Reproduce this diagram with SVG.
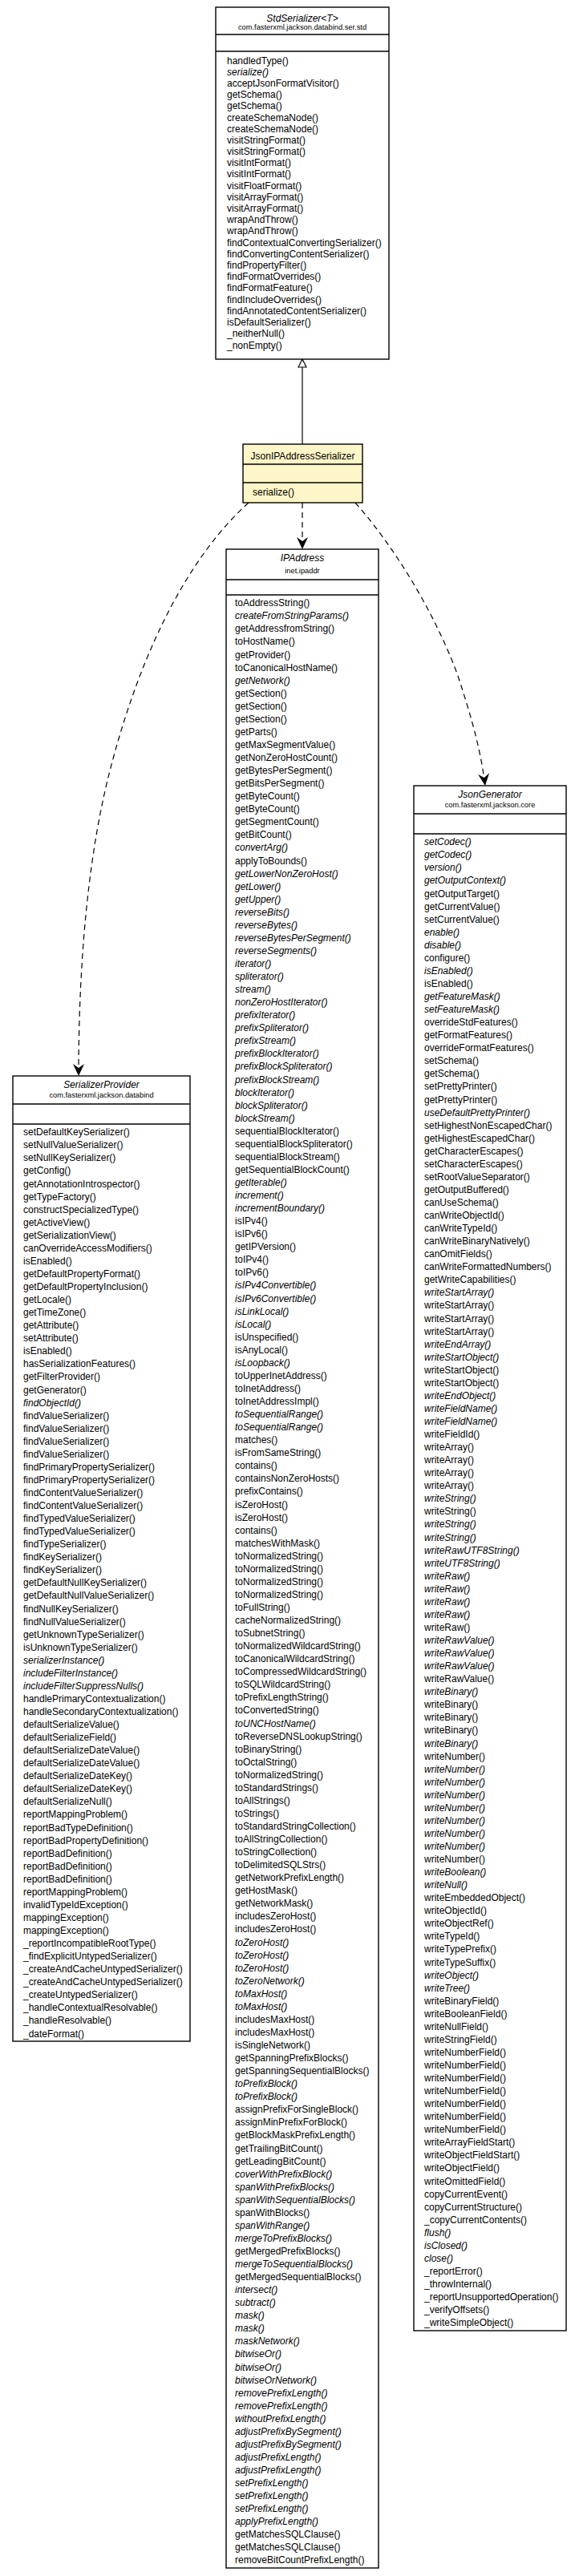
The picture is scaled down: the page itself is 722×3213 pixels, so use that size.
<svg xmlns="http://www.w3.org/2000/svg" width="722" height="3213" viewBox="0 0 722 3213">
<style>
.b{fill:#fff;stroke:#000;stroke-width:1.4}
.y{fill:#fef6c8;stroke:#000;stroke-width:1.4}
.s{stroke:#000;stroke-width:1.4}
.t{font-family:"Liberation Sans",Arial,sans-serif;font-size:12px;fill:#000}
.c{font-family:"Liberation Sans",Arial,sans-serif;font-size:12px;fill:#000;text-anchor:middle}
.p{font-family:"Liberation Sans",Arial,sans-serif;font-size:9.3px;fill:#000;text-anchor:middle}
.i{font-style:italic}
.e{fill:none;stroke:#000;stroke-width:1.2;stroke-dasharray:7,5}
.g{fill:none;stroke:#000;stroke-width:1.2}
</style>
<defs>
<marker id="vee" markerUnits="userSpaceOnUse" viewBox="0 0 15 14" markerWidth="15" markerHeight="14" refX="15" refY="7" orient="auto"><path d="M0,0 L15,7 L0,14 L5,7 Z" fill="#000"/></marker>
<marker id="tri" markerUnits="userSpaceOnUse" viewBox="0 0 12 12" markerWidth="12" markerHeight="12" refX="11" refY="6" orient="auto"><path d="M1,1 L11,6 L1,11 Z" fill="#fff" stroke="#000" stroke-width="1.2"/></marker>
</defs>
<rect width="722" height="3213" fill="#fff"/>

<g id="connectors">
<path class="g" d="M377,554 L377,448" marker-end="url(#tri)"/>
<path class="e" d="M377,627 L377,685" marker-end="url(#vee)"/>
<path class="e" d="M310,627 C240,690 180,800 140,950 C110,1060 98,1200 98,1342" marker-end="url(#vee)"/>
<path class="e" d="M443,627 C490,680 540,760 570,840 C590,900 600,940 605,980" marker-end="url(#vee)"/>
</g>

<g id="StdSerializer">
<rect class="b" x="269" y="9" width="216" height="439"/>
<line class="s" x1="269" y1="43" x2="485" y2="43"/>
<line class="s" x1="269" y1="64" x2="485" y2="64"/>
<text class="c i" x="377" y="27">StdSerializer&lt;T&gt;</text>
<text class="p" x="377" y="37">com.fasterxml.jackson.databind.ser.std</text>
<text class="t"><tspan x="283" y="79.5">handledType()</tspan><tspan x="283" dy="14.2" class="i">serialize()</tspan><tspan x="283" dy="14.2">acceptJsonFormatVisitor()</tspan><tspan x="283" dy="14.2">getSchema()</tspan><tspan x="283" dy="14.2">getSchema()</tspan><tspan x="283" dy="14.2">createSchemaNode()</tspan><tspan x="283" dy="14.2">createSchemaNode()</tspan><tspan x="283" dy="14.2">visitStringFormat()</tspan><tspan x="283" dy="14.2">visitStringFormat()</tspan><tspan x="283" dy="14.2">visitIntFormat()</tspan><tspan x="283" dy="14.2">visitIntFormat()</tspan><tspan x="283" dy="14.2">visitFloatFormat()</tspan><tspan x="283" dy="14.2">visitArrayFormat()</tspan><tspan x="283" dy="14.2">visitArrayFormat()</tspan><tspan x="283" dy="14.2">wrapAndThrow()</tspan><tspan x="283" dy="14.2">wrapAndThrow()</tspan><tspan x="283" dy="14.2">findContextualConvertingSerializer()</tspan><tspan x="283" dy="14.2">findConvertingContentSerializer()</tspan><tspan x="283" dy="14.2">findPropertyFilter()</tspan><tspan x="283" dy="14.2">findFormatOverrides()</tspan><tspan x="283" dy="14.2">findFormatFeature()</tspan><tspan x="283" dy="14.2">findIncludeOverrides()</tspan><tspan x="283" dy="14.2">findAnnotatedContentSerializer()</tspan><tspan x="283" dy="14.2">isDefaultSerializer()</tspan><tspan x="283" dy="14.2">_neitherNull()</tspan><tspan x="283" dy="14.2">_nonEmpty()</tspan></text>
</g>

<g id="JsonIPAddressSerializer">
<rect class="y" x="303" y="554" width="149" height="73"/>
<line class="s" x1="303" y1="579" x2="452" y2="579"/>
<line class="s" x1="303" y1="602" x2="452" y2="602"/>
<text class="c" x="377.5" y="573">JsonIPAddressSerializer</text>
<text class="t" x="315" y="618">serialize()</text>
</g>

<g id="IPAddress">
<rect class="b" x="282" y="685" width="190" height="2518"/>
<line class="s" x1="282" y1="723" x2="472" y2="723"/>
<line class="s" x1="282" y1="742" x2="472" y2="742"/>
<text class="c i" x="377" y="700">IPAddress</text>
<text class="p" x="377" y="715">inet.ipaddr</text>
<text class="t"><tspan x="293" y="756.3">toAddressString()</tspan><tspan x="293" dy="16.06" class="i">createFromStringParams()</tspan><tspan x="293" dy="16.06">getAddressfromString()</tspan><tspan x="293" dy="16.06">toHostName()</tspan><tspan x="293" dy="16.06">getProvider()</tspan><tspan x="293" dy="16.06">toCanonicalHostName()</tspan><tspan x="293" dy="16.06" class="i">getNetwork()</tspan><tspan x="293" dy="16.06">getSection()</tspan><tspan x="293" dy="16.06">getSection()</tspan><tspan x="293" dy="16.06">getSection()</tspan><tspan x="293" dy="16.06">getParts()</tspan><tspan x="293" dy="16.06">getMaxSegmentValue()</tspan><tspan x="293" dy="16.06">getNonZeroHostCount()</tspan><tspan x="293" dy="16.06">getBytesPerSegment()</tspan><tspan x="293" dy="16.06">getBitsPerSegment()</tspan><tspan x="293" dy="16.06">getByteCount()</tspan><tspan x="293" dy="16.06">getByteCount()</tspan><tspan x="293" dy="16.06">getSegmentCount()</tspan><tspan x="293" dy="16.06">getBitCount()</tspan><tspan x="293" dy="16.06" class="i">convertArg()</tspan><tspan x="293" dy="16.06">applyToBounds()</tspan><tspan x="293" dy="16.06" class="i">getLowerNonZeroHost()</tspan><tspan x="293" dy="16.06" class="i">getLower()</tspan><tspan x="293" dy="16.06" class="i">getUpper()</tspan><tspan x="293" dy="16.06" class="i">reverseBits()</tspan><tspan x="293" dy="16.06" class="i">reverseBytes()</tspan><tspan x="293" dy="16.06" class="i">reverseBytesPerSegment()</tspan><tspan x="293" dy="16.06" class="i">reverseSegments()</tspan><tspan x="293" dy="16.06" class="i">iterator()</tspan><tspan x="293" dy="16.06" class="i">spliterator()</tspan><tspan x="293" dy="16.06" class="i">stream()</tspan><tspan x="293" dy="16.06" class="i">nonZeroHostIterator()</tspan><tspan x="293" dy="16.06" class="i">prefixIterator()</tspan><tspan x="293" dy="16.06" class="i">prefixSpliterator()</tspan><tspan x="293" dy="16.06" class="i">prefixStream()</tspan><tspan x="293" dy="16.06" class="i">prefixBlockIterator()</tspan><tspan x="293" dy="16.06" class="i">prefixBlockSpliterator()</tspan><tspan x="293" dy="16.06" class="i">prefixBlockStream()</tspan><tspan x="293" dy="16.06" class="i">blockIterator()</tspan><tspan x="293" dy="16.06" class="i">blockSpliterator()</tspan><tspan x="293" dy="16.06" class="i">blockStream()</tspan><tspan x="293" dy="16.06">sequentialBlockIterator()</tspan><tspan x="293" dy="16.06">sequentialBlockSpliterator()</tspan><tspan x="293" dy="16.06">sequentialBlockStream()</tspan><tspan x="293" dy="16.06">getSequentialBlockCount()</tspan><tspan x="293" dy="16.06" class="i">getIterable()</tspan><tspan x="293" dy="16.06" class="i">increment()</tspan><tspan x="293" dy="16.06" class="i">incrementBoundary()</tspan><tspan x="293" dy="16.06">isIPv4()</tspan><tspan x="293" dy="16.06">isIPv6()</tspan><tspan x="293" dy="16.06">getIPVersion()</tspan><tspan x="293" dy="16.06">toIPv4()</tspan><tspan x="293" dy="16.06">toIPv6()</tspan><tspan x="293" dy="16.06" class="i">isIPv4Convertible()</tspan><tspan x="293" dy="16.06" class="i">isIPv6Convertible()</tspan><tspan x="293" dy="16.06" class="i">isLinkLocal()</tspan><tspan x="293" dy="16.06" class="i">isLocal()</tspan><tspan x="293" dy="16.06">isUnspecified()</tspan><tspan x="293" dy="16.06">isAnyLocal()</tspan><tspan x="293" dy="16.06" class="i">isLoopback()</tspan><tspan x="293" dy="16.06">toUpperInetAddress()</tspan><tspan x="293" dy="16.06">toInetAddress()</tspan><tspan x="293" dy="16.06">toInetAddressImpl()</tspan><tspan x="293" dy="16.06" class="i">toSequentialRange()</tspan><tspan x="293" dy="16.06" class="i">toSequentialRange()</tspan><tspan x="293" dy="16.06">matches()</tspan><tspan x="293" dy="16.06">isFromSameString()</tspan><tspan x="293" dy="16.06">contains()</tspan><tspan x="293" dy="16.06">containsNonZeroHosts()</tspan><tspan x="293" dy="16.06">prefixContains()</tspan><tspan x="293" dy="16.06">isZeroHost()</tspan><tspan x="293" dy="16.06">isZeroHost()</tspan><tspan x="293" dy="16.06">contains()</tspan><tspan x="293" dy="16.06">matchesWithMask()</tspan><tspan x="293" dy="16.06">toNormalizedString()</tspan><tspan x="293" dy="16.06">toNormalizedString()</tspan><tspan x="293" dy="16.06">toNormalizedString()</tspan><tspan x="293" dy="16.06">toNormalizedString()</tspan><tspan x="293" dy="16.06">toFullString()</tspan><tspan x="293" dy="16.06">cacheNormalizedString()</tspan><tspan x="293" dy="16.06">toSubnetString()</tspan><tspan x="293" dy="16.06">toNormalizedWildcardString()</tspan><tspan x="293" dy="16.06">toCanonicalWildcardString()</tspan><tspan x="293" dy="16.06">toCompressedWildcardString()</tspan><tspan x="293" dy="16.06">toSQLWildcardString()</tspan><tspan x="293" dy="16.06">toPrefixLengthString()</tspan><tspan x="293" dy="16.06">toConvertedString()</tspan><tspan x="293" dy="16.06" class="i">toUNCHostName()</tspan><tspan x="293" dy="16.06">toReverseDNSLookupString()</tspan><tspan x="293" dy="16.06">toBinaryString()</tspan><tspan x="293" dy="16.06">toOctalString()</tspan><tspan x="293" dy="16.06">toNormalizedString()</tspan><tspan x="293" dy="16.06">toStandardStrings()</tspan><tspan x="293" dy="16.06">toAllStrings()</tspan><tspan x="293" dy="16.06">toStrings()</tspan><tspan x="293" dy="16.06">toStandardStringCollection()</tspan><tspan x="293" dy="16.06">toAllStringCollection()</tspan><tspan x="293" dy="16.06">toStringCollection()</tspan><tspan x="293" dy="16.06">toDelimitedSQLStrs()</tspan><tspan x="293" dy="16.06">getNetworkPrefixLength()</tspan><tspan x="293" dy="16.06">getHostMask()</tspan><tspan x="293" dy="16.06">getNetworkMask()</tspan><tspan x="293" dy="16.06">includesZeroHost()</tspan><tspan x="293" dy="16.06">includesZeroHost()</tspan><tspan x="293" dy="16.06" class="i">toZeroHost()</tspan><tspan x="293" dy="16.06" class="i">toZeroHost()</tspan><tspan x="293" dy="16.06" class="i">toZeroHost()</tspan><tspan x="293" dy="16.06" class="i">toZeroNetwork()</tspan><tspan x="293" dy="16.06" class="i">toMaxHost()</tspan><tspan x="293" dy="16.06" class="i">toMaxHost()</tspan><tspan x="293" dy="16.06">includesMaxHost()</tspan><tspan x="293" dy="16.06">includesMaxHost()</tspan><tspan x="293" dy="16.06">isSingleNetwork()</tspan><tspan x="293" dy="16.06">getSpanningPrefixBlocks()</tspan><tspan x="293" dy="16.06">getSpanningSequentialBlocks()</tspan><tspan x="293" dy="16.06" class="i">toPrefixBlock()</tspan><tspan x="293" dy="16.06" class="i">toPrefixBlock()</tspan><tspan x="293" dy="16.06">assignPrefixForSingleBlock()</tspan><tspan x="293" dy="16.06">assignMinPrefixForBlock()</tspan><tspan x="293" dy="16.06">getBlockMaskPrefixLength()</tspan><tspan x="293" dy="16.06">getTrailingBitCount()</tspan><tspan x="293" dy="16.06">getLeadingBitCount()</tspan><tspan x="293" dy="16.06" class="i">coverWithPrefixBlock()</tspan><tspan x="293" dy="16.06" class="i">spanWithPrefixBlocks()</tspan><tspan x="293" dy="16.06" class="i">spanWithSequentialBlocks()</tspan><tspan x="293" dy="16.06">spanWithBlocks()</tspan><tspan x="293" dy="16.06" class="i">spanWithRange()</tspan><tspan x="293" dy="16.06" class="i">mergeToPrefixBlocks()</tspan><tspan x="293" dy="16.06">getMergedPrefixBlocks()</tspan><tspan x="293" dy="16.06" class="i">mergeToSequentialBlocks()</tspan><tspan x="293" dy="16.06">getMergedSequentialBlocks()</tspan><tspan x="293" dy="16.06" class="i">intersect()</tspan><tspan x="293" dy="16.06" class="i">subtract()</tspan><tspan x="293" dy="16.06" class="i">mask()</tspan><tspan x="293" dy="16.06" class="i">mask()</tspan><tspan x="293" dy="16.06" class="i">maskNetwork()</tspan><tspan x="293" dy="16.06" class="i">bitwiseOr()</tspan><tspan x="293" dy="16.06" class="i">bitwiseOr()</tspan><tspan x="293" dy="16.06" class="i">bitwiseOrNetwork()</tspan><tspan x="293" dy="16.06" class="i">removePrefixLength()</tspan><tspan x="293" dy="16.06" class="i">removePrefixLength()</tspan><tspan x="293" dy="16.06" class="i">withoutPrefixLength()</tspan><tspan x="293" dy="16.06" class="i">adjustPrefixBySegment()</tspan><tspan x="293" dy="16.06" class="i">adjustPrefixBySegment()</tspan><tspan x="293" dy="16.06" class="i">adjustPrefixLength()</tspan><tspan x="293" dy="16.06" class="i">adjustPrefixLength()</tspan><tspan x="293" dy="16.06" class="i">setPrefixLength()</tspan><tspan x="293" dy="16.06" class="i">setPrefixLength()</tspan><tspan x="293" dy="16.06" class="i">setPrefixLength()</tspan><tspan x="293" dy="16.06" class="i">applyPrefixLength()</tspan><tspan x="293" dy="16.06">getMatchesSQLClause()</tspan><tspan x="293" dy="16.06">getMatchesSQLClause()</tspan><tspan x="293" dy="16.06">removeBitCountPrefixLength()</tspan></text>
</g>

<g id="SerializerProvider">
<rect class="b" x="16" y="1342" width="221" height="1204"/>
<line class="s" x1="16" y1="1377" x2="237" y2="1377"/>
<line class="s" x1="16" y1="1402" x2="237" y2="1402"/>
<text class="c i" x="126.5" y="1357">SerializerProvider</text>
<text class="p" x="126.5" y="1369">com.fasterxml.jackson.databind</text>
<text class="t"><tspan x="29" y="1416.3">setDefaultKeySerializer()</tspan><tspan x="29" dy="16.06">setNullValueSerializer()</tspan><tspan x="29" dy="16.06">setNullKeySerializer()</tspan><tspan x="29" dy="16.06">getConfig()</tspan><tspan x="29" dy="16.06">getAnnotationIntrospector()</tspan><tspan x="29" dy="16.06">getTypeFactory()</tspan><tspan x="29" dy="16.06">constructSpecializedType()</tspan><tspan x="29" dy="16.06">getActiveView()</tspan><tspan x="29" dy="16.06">getSerializationView()</tspan><tspan x="29" dy="16.06">canOverrideAccessModifiers()</tspan><tspan x="29" dy="16.06">isEnabled()</tspan><tspan x="29" dy="16.06">getDefaultPropertyFormat()</tspan><tspan x="29" dy="16.06">getDefaultPropertyInclusion()</tspan><tspan x="29" dy="16.06">getLocale()</tspan><tspan x="29" dy="16.06">getTimeZone()</tspan><tspan x="29" dy="16.06">getAttribute()</tspan><tspan x="29" dy="16.06">setAttribute()</tspan><tspan x="29" dy="16.06">isEnabled()</tspan><tspan x="29" dy="16.06">hasSerializationFeatures()</tspan><tspan x="29" dy="16.06">getFilterProvider()</tspan><tspan x="29" dy="16.06">getGenerator()</tspan><tspan x="29" dy="16.06" class="i">findObjectId()</tspan><tspan x="29" dy="16.06">findValueSerializer()</tspan><tspan x="29" dy="16.06">findValueSerializer()</tspan><tspan x="29" dy="16.06">findValueSerializer()</tspan><tspan x="29" dy="16.06">findValueSerializer()</tspan><tspan x="29" dy="16.06">findPrimaryPropertySerializer()</tspan><tspan x="29" dy="16.06">findPrimaryPropertySerializer()</tspan><tspan x="29" dy="16.06">findContentValueSerializer()</tspan><tspan x="29" dy="16.06">findContentValueSerializer()</tspan><tspan x="29" dy="16.06">findTypedValueSerializer()</tspan><tspan x="29" dy="16.06">findTypedValueSerializer()</tspan><tspan x="29" dy="16.06">findTypeSerializer()</tspan><tspan x="29" dy="16.06">findKeySerializer()</tspan><tspan x="29" dy="16.06">findKeySerializer()</tspan><tspan x="29" dy="16.06">getDefaultNullKeySerializer()</tspan><tspan x="29" dy="16.06">getDefaultNullValueSerializer()</tspan><tspan x="29" dy="16.06">findNullKeySerializer()</tspan><tspan x="29" dy="16.06">findNullValueSerializer()</tspan><tspan x="29" dy="16.06">getUnknownTypeSerializer()</tspan><tspan x="29" dy="16.06">isUnknownTypeSerializer()</tspan><tspan x="29" dy="16.06" class="i">serializerInstance()</tspan><tspan x="29" dy="16.06" class="i">includeFilterInstance()</tspan><tspan x="29" dy="16.06" class="i">includeFilterSuppressNulls()</tspan><tspan x="29" dy="16.06">handlePrimaryContextualization()</tspan><tspan x="29" dy="16.06">handleSecondaryContextualization()</tspan><tspan x="29" dy="16.06">defaultSerializeValue()</tspan><tspan x="29" dy="16.06">defaultSerializeField()</tspan><tspan x="29" dy="16.06">defaultSerializeDateValue()</tspan><tspan x="29" dy="16.06">defaultSerializeDateValue()</tspan><tspan x="29" dy="16.06">defaultSerializeDateKey()</tspan><tspan x="29" dy="16.06">defaultSerializeDateKey()</tspan><tspan x="29" dy="16.06">defaultSerializeNull()</tspan><tspan x="29" dy="16.06">reportMappingProblem()</tspan><tspan x="29" dy="16.06">reportBadTypeDefinition()</tspan><tspan x="29" dy="16.06">reportBadPropertyDefinition()</tspan><tspan x="29" dy="16.06">reportBadDefinition()</tspan><tspan x="29" dy="16.06">reportBadDefinition()</tspan><tspan x="29" dy="16.06">reportBadDefinition()</tspan><tspan x="29" dy="16.06">reportMappingProblem()</tspan><tspan x="29" dy="16.06">invalidTypeIdException()</tspan><tspan x="29" dy="16.06">mappingException()</tspan><tspan x="29" dy="16.06">mappingException()</tspan><tspan x="29" dy="16.06">_reportIncompatibleRootType()</tspan><tspan x="29" dy="16.06">_findExplicitUntypedSerializer()</tspan><tspan x="29" dy="16.06">_createAndCacheUntypedSerializer()</tspan><tspan x="29" dy="16.06">_createAndCacheUntypedSerializer()</tspan><tspan x="29" dy="16.06">_createUntypedSerializer()</tspan><tspan x="29" dy="16.06">_handleContextualResolvable()</tspan><tspan x="29" dy="16.06">_handleResolvable()</tspan><tspan x="29" dy="16.06">_dateFormat()</tspan></text>
</g>

<g id="JsonGenerator">
<rect class="b" x="516" y="980" width="190" height="1927"/>
<line class="s" x1="516" y1="1015" x2="706" y2="1015"/>
<line class="s" x1="516" y1="1040" x2="706" y2="1040"/>
<text class="c i" x="611" y="995">JsonGenerator</text>
<text class="p" x="611" y="1007">com.fasterxml.jackson.core</text>
<text class="t"><tspan x="529" y="1054.3" class="i">setCodec()</tspan><tspan x="529" dy="16.06" class="i">getCodec()</tspan><tspan x="529" dy="16.06" class="i">version()</tspan><tspan x="529" dy="16.06" class="i">getOutputContext()</tspan><tspan x="529" dy="16.06">getOutputTarget()</tspan><tspan x="529" dy="16.06">getCurrentValue()</tspan><tspan x="529" dy="16.06">setCurrentValue()</tspan><tspan x="529" dy="16.06" class="i">enable()</tspan><tspan x="529" dy="16.06" class="i">disable()</tspan><tspan x="529" dy="16.06">configure()</tspan><tspan x="529" dy="16.06" class="i">isEnabled()</tspan><tspan x="529" dy="16.06">isEnabled()</tspan><tspan x="529" dy="16.06" class="i">getFeatureMask()</tspan><tspan x="529" dy="16.06" class="i">setFeatureMask()</tspan><tspan x="529" dy="16.06">overrideStdFeatures()</tspan><tspan x="529" dy="16.06">getFormatFeatures()</tspan><tspan x="529" dy="16.06">overrideFormatFeatures()</tspan><tspan x="529" dy="16.06">setSchema()</tspan><tspan x="529" dy="16.06">getSchema()</tspan><tspan x="529" dy="16.06">setPrettyPrinter()</tspan><tspan x="529" dy="16.06">getPrettyPrinter()</tspan><tspan x="529" dy="16.06" class="i">useDefaultPrettyPrinter()</tspan><tspan x="529" dy="16.06">setHighestNonEscapedChar()</tspan><tspan x="529" dy="16.06">getHighestEscapedChar()</tspan><tspan x="529" dy="16.06">getCharacterEscapes()</tspan><tspan x="529" dy="16.06">setCharacterEscapes()</tspan><tspan x="529" dy="16.06">setRootValueSeparator()</tspan><tspan x="529" dy="16.06">getOutputBuffered()</tspan><tspan x="529" dy="16.06">canUseSchema()</tspan><tspan x="529" dy="16.06">canWriteObjectId()</tspan><tspan x="529" dy="16.06">canWriteTypeId()</tspan><tspan x="529" dy="16.06">canWriteBinaryNatively()</tspan><tspan x="529" dy="16.06">canOmitFields()</tspan><tspan x="529" dy="16.06">canWriteFormattedNumbers()</tspan><tspan x="529" dy="16.06">getWriteCapabilities()</tspan><tspan x="529" dy="16.06" class="i">writeStartArray()</tspan><tspan x="529" dy="16.06">writeStartArray()</tspan><tspan x="529" dy="16.06">writeStartArray()</tspan><tspan x="529" dy="16.06">writeStartArray()</tspan><tspan x="529" dy="16.06" class="i">writeEndArray()</tspan><tspan x="529" dy="16.06" class="i">writeStartObject()</tspan><tspan x="529" dy="16.06">writeStartObject()</tspan><tspan x="529" dy="16.06">writeStartObject()</tspan><tspan x="529" dy="16.06" class="i">writeEndObject()</tspan><tspan x="529" dy="16.06" class="i">writeFieldName()</tspan><tspan x="529" dy="16.06" class="i">writeFieldName()</tspan><tspan x="529" dy="16.06">writeFieldId()</tspan><tspan x="529" dy="16.06">writeArray()</tspan><tspan x="529" dy="16.06">writeArray()</tspan><tspan x="529" dy="16.06">writeArray()</tspan><tspan x="529" dy="16.06">writeArray()</tspan><tspan x="529" dy="16.06" class="i">writeString()</tspan><tspan x="529" dy="16.06">writeString()</tspan><tspan x="529" dy="16.06" class="i">writeString()</tspan><tspan x="529" dy="16.06" class="i">writeString()</tspan><tspan x="529" dy="16.06" class="i">writeRawUTF8String()</tspan><tspan x="529" dy="16.06" class="i">writeUTF8String()</tspan><tspan x="529" dy="16.06" class="i">writeRaw()</tspan><tspan x="529" dy="16.06" class="i">writeRaw()</tspan><tspan x="529" dy="16.06" class="i">writeRaw()</tspan><tspan x="529" dy="16.06" class="i">writeRaw()</tspan><tspan x="529" dy="16.06">writeRaw()</tspan><tspan x="529" dy="16.06" class="i">writeRawValue()</tspan><tspan x="529" dy="16.06" class="i">writeRawValue()</tspan><tspan x="529" dy="16.06" class="i">writeRawValue()</tspan><tspan x="529" dy="16.06">writeRawValue()</tspan><tspan x="529" dy="16.06" class="i">writeBinary()</tspan><tspan x="529" dy="16.06">writeBinary()</tspan><tspan x="529" dy="16.06">writeBinary()</tspan><tspan x="529" dy="16.06">writeBinary()</tspan><tspan x="529" dy="16.06" class="i">writeBinary()</tspan><tspan x="529" dy="16.06">writeNumber()</tspan><tspan x="529" dy="16.06" class="i">writeNumber()</tspan><tspan x="529" dy="16.06" class="i">writeNumber()</tspan><tspan x="529" dy="16.06" class="i">writeNumber()</tspan><tspan x="529" dy="16.06" class="i">writeNumber()</tspan><tspan x="529" dy="16.06" class="i">writeNumber()</tspan><tspan x="529" dy="16.06" class="i">writeNumber()</tspan><tspan x="529" dy="16.06" class="i">writeNumber()</tspan><tspan x="529" dy="16.06">writeNumber()</tspan><tspan x="529" dy="16.06" class="i">writeBoolean()</tspan><tspan x="529" dy="16.06" class="i">writeNull()</tspan><tspan x="529" dy="16.06">writeEmbeddedObject()</tspan><tspan x="529" dy="16.06">writeObjectId()</tspan><tspan x="529" dy="16.06">writeObjectRef()</tspan><tspan x="529" dy="16.06">writeTypeId()</tspan><tspan x="529" dy="16.06">writeTypePrefix()</tspan><tspan x="529" dy="16.06">writeTypeSuffix()</tspan><tspan x="529" dy="16.06" class="i">writeObject()</tspan><tspan x="529" dy="16.06" class="i">writeTree()</tspan><tspan x="529" dy="16.06">writeBinaryField()</tspan><tspan x="529" dy="16.06">writeBooleanField()</tspan><tspan x="529" dy="16.06">writeNullField()</tspan><tspan x="529" dy="16.06">writeStringField()</tspan><tspan x="529" dy="16.06">writeNumberField()</tspan><tspan x="529" dy="16.06">writeNumberField()</tspan><tspan x="529" dy="16.06">writeNumberField()</tspan><tspan x="529" dy="16.06">writeNumberField()</tspan><tspan x="529" dy="16.06">writeNumberField()</tspan><tspan x="529" dy="16.06">writeNumberField()</tspan><tspan x="529" dy="16.06">writeNumberField()</tspan><tspan x="529" dy="16.06">writeArrayFieldStart()</tspan><tspan x="529" dy="16.06">writeObjectFieldStart()</tspan><tspan x="529" dy="16.06">writeObjectField()</tspan><tspan x="529" dy="16.06">writeOmittedField()</tspan><tspan x="529" dy="16.06">copyCurrentEvent()</tspan><tspan x="529" dy="16.06">copyCurrentStructure()</tspan><tspan x="529" dy="16.06">_copyCurrentContents()</tspan><tspan x="529" dy="16.06" class="i">flush()</tspan><tspan x="529" dy="16.06" class="i">isClosed()</tspan><tspan x="529" dy="16.06" class="i">close()</tspan><tspan x="529" dy="16.06">_reportError()</tspan><tspan x="529" dy="16.06">_throwInternal()</tspan><tspan x="529" dy="16.06">_reportUnsupportedOperation()</tspan><tspan x="529" dy="16.06">_verifyOffsets()</tspan><tspan x="529" dy="16.06">_writeSimpleObject()</tspan></text>
</g>
</svg>
